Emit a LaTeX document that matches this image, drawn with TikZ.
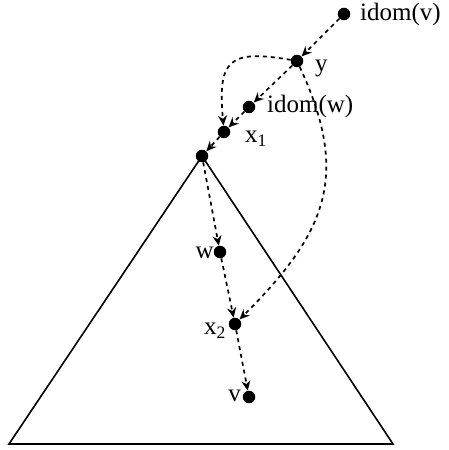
\documentclass[tikz,border=0pt]{standalone}
\usepackage{fontspec}
\setmainfont{Liberation Serif}
\usetikzlibrary{arrows.meta}
\tikzset{
  vtx/.style={circle, fill=black, inner sep=0pt, minimum size=12.5pt},
  lbl/.style={inner sep=0pt, font=\fontsize{25}{30}\selectfont},
  dom/.style={dash pattern=on 4pt off 4pt, line width=1.7pt,
              -{Stealth[length=10pt,width=9pt]}},
  tri/.style={line width=1.6pt}
}
\begin{document}
\begin{tikzpicture}[x=1pt,y=1pt]
\useasboundingbox (0,0) rectangle (448,450);
% subtree
\coordinate (apex) at (202,294);
\coordinate (bl) at (9,6);
\coordinate (br) at (393,6);
\draw[tri] (apex) -- (bl) -- (br) -- cycle;
% dominator chain
\node[vtx] (iv) at (344,436) {};
\node[vtx] (y)  at (297,389) {};
\node[vtx] (iw) at (249,343) {};
\node[vtx] (x1) at (224,318) {};
\node[vtx] (r)  at (apex) {};
\node[vtx] (w)  at (220,198) {};
\node[vtx] (x2) at (235,126) {};
\node[vtx] (v)  at (249,53) {};
% labels
\node[lbl, anchor=base west] (l-iv) at (360,429) {idom(v)};
\node[lbl, anchor=base west] (l-y)  at (315,378) {y};
\node[lbl, anchor=base west] (l-iw) at (267,337) {idom(w)};
\node[lbl, anchor=base west] (l-x1) at (245,307) {x\textsubscript{1}};
\node[lbl, anchor=base east] (l-w)  at (214,191) {w};
\node[lbl, anchor=base east] (l-x2) at (226,115) {x\textsubscript{2}};
\node[lbl, anchor=base east] (l-v)  at (241,48) {v};
% edges
\draw[dom] (iv) -- (y);
\draw[dom] (y) -- (iw);
\draw[dom] (iw) -- (x1);
\draw[dom] (x1) -- (r);
\draw[dom] (r) -- (w);
\draw[dom] (w) -- (x2);
\draw[dom] (x2) -- (v);
\draw[dom] (y) to[out=170,in=95,looseness=1.75] (x1);
\draw[dom] (y) to[out=-65,in=45,looseness=1.2] (x2);
\end{tikzpicture}
\end{document}
